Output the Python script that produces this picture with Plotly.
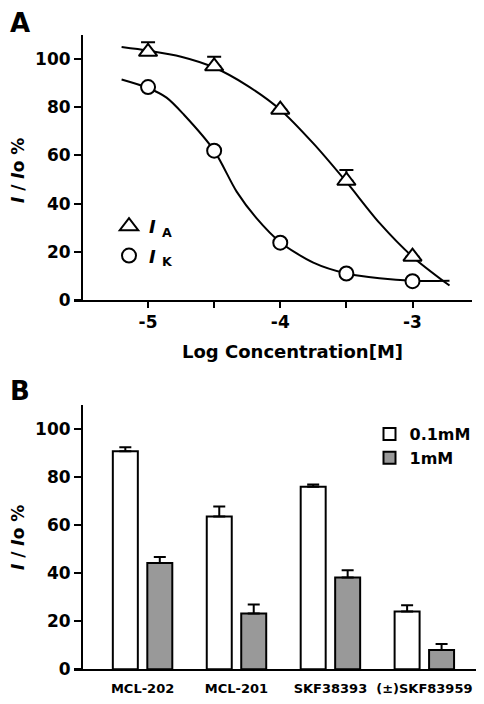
import plotly.graph_objects as go

W, H = 484, 704          # browser window (reference picture) size
OFF = 8                  # default body margin of the written page
FW, FH = W - 2 * OFF, H - 2 * OFF
FONT = "DejaVu Sans"

# ---------------- Panel A data ----------------
log_conc = [-5.0, -4.5, -4.0, -3.5, -3.0]
ia_values = [103.0, 97.0, 79.0, 49.5, 18.0]
ia_err = [4.0, 4.0, 0.0, 4.5, 0.0]
ik_values = [88.4, 62.0, 23.8, 11.0, 7.8]
ik_err = [0.0, 0.0, 0.0, 0.0, 0.0]

# fitted curves
ia_curve_x = [-5.2, -5.0, -4.75, -4.5, -4.25, -4.0, -3.75, -3.5, -3.25, -3.0, -2.72]
ia_curve_y = [105.0, 103.5, 101.0, 96.5, 89.0, 79.0, 65.0, 49.0, 32.0, 18.0, 6.0]
ik_curve_x = [-5.2, -5.0, -4.86, -4.73, -4.5, -4.33, -4.18, -4.0, -3.75, -3.5, -3.25, -3.0, -2.72]
ik_curve_y = [91.5, 88.0, 84.0, 77.0, 62.0, 45.0, 34.0, 24.0, 15.5, 11.0, 9.0, 8.0, 8.0]

a_xticks = [-5, -4, -3]
a_xticktext = ["-5", "-4", "-3"]
a_minor_ticks = [-4.5, -3.5]
y_ticks = [0, 20, 40, 60, 80, 100]

# ---------------- Panel B data ----------------
compounds = ["MCL-202", "MCL-201", "SKF38393", "(±)SKF83959"]
low_dose = [90.7, 63.6, 76.0, 24.1]
low_err = [1.7, 4.2, 0.9, 2.6]
high_dose = [44.2, 23.2, 38.2, 8.0]
high_err = [2.5, 3.8, 3.0, 2.5]


def px_x(p):
    return (p - OFF) / FW


def px_y(p):
    return (H - OFF - p) / FH


fig = go.Figure()

# curves
fig.add_trace(go.Scatter(x=ia_curve_x, y=ia_curve_y, mode="lines",
                         line=dict(color="black", width=2, shape="spline", smoothing=0.8),
                         showlegend=False, hoverinfo="skip", xaxis="x", yaxis="y"))
fig.add_trace(go.Scatter(x=ik_curve_x, y=ik_curve_y, mode="lines",
                         line=dict(color="black", width=2, shape="spline", smoothing=0.8),
                         showlegend=False, hoverinfo="skip", xaxis="x", yaxis="y"))
# points
fig.add_trace(go.Scatter(x=log_conc, y=ia_values, mode="markers",
                         name="<i>I</i>&nbsp;<sub>A</sub>",
                         marker=dict(symbol="triangle-up", size=16, color="white",
                                     line=dict(color="black", width=2)),
                         error_y=dict(type="data", array=ia_err, arrayminus=[0] * 5,
                                      symmetric=False, color="black", thickness=2, width=7),
                         legend="legend2", legendgroup="a", xaxis="x", yaxis="y"))
fig.add_trace(go.Scatter(x=log_conc, y=ik_values, mode="markers",
                         name="<i>I</i>&nbsp;<sub>K</sub>",
                         marker=dict(symbol="circle", size=14, color="white",
                                     line=dict(color="black", width=2)),
                         error_y=dict(type="data", array=ik_err, arrayminus=[0] * 5,
                                      symmetric=False, color="black", thickness=2, width=7),
                         legend="legend2", legendgroup="b", xaxis="x", yaxis="y"))

# bars
fig.add_trace(go.Bar(x=compounds, y=low_dose, name="0.1mM",
                     marker=dict(color="white", line=dict(color="black", width=2)),
                     error_y=dict(type="data", array=low_err, arrayminus=[0] * 4,
                                  symmetric=False, color="black", thickness=2, width=6),
                     xaxis="x2", yaxis="y2", legend="legend"))
fig.add_trace(go.Bar(x=compounds, y=high_dose, name="1mM",
                     marker=dict(color="#999999", line=dict(color="black", width=2)),
                     error_y=dict(type="data", array=high_err, arrayminus=[0] * 4,
                                  symmetric=False, color="black", thickness=2, width=6),
                     xaxis="x2", yaxis="y2", legend="legend"))

tickfont = dict(family=FONT, size=17, color="black", weight="bold")
axis_common = dict(showline=True, linecolor="black", linewidth=2, showgrid=False,
                   zeroline=False, ticks="outside", tickwidth=2, tickcolor="black")

fig.update_layout(
    width=FW, height=FH,
    margin=dict(l=0, r=0, t=0, b=0, autoexpand=False),
    paper_bgcolor="white", plot_bgcolor="white",
    barmode="group", bargap=0.266, bargroupgap=0.275,
    xaxis=dict(domain=[px_x(74), px_x(472)], anchor="y", range=[-5.56, -2.55],
               tickvals=a_xticks, ticktext=a_xticktext, ticklen=6,
               minor=dict(tickvals=a_minor_ticks, ticks="outside", ticklen=6,
                          tickwidth=2, tickcolor="black", showgrid=False),
               tickfont=tickfont, automargin=False, **axis_common),
    yaxis=dict(domain=[px_y(300), px_y(35)], anchor="free", position=px_x(82),
               range=[0, 110], tickvals=y_ticks, ticklen=7, tickfont=tickfont,
               automargin=False, **axis_common),
    xaxis2=dict(domain=[px_x(74), 1.0], anchor="y2", type="category",
                range=[-0.73, 3.55], showline=True, linecolor="black", linewidth=2,
                showgrid=False, zeroline=False, ticks="", ticklabelstandoff=6,
                automargin=False,
                tickfont=dict(family=FONT, size=13, color="black", weight="bold")),
    yaxis2=dict(domain=[px_y(669.3), px_y(405)], anchor="free", position=px_x(82),
                range=[0, 110], tickvals=y_ticks, ticklen=7, tickfont=tickfont,
                automargin=False, **axis_common),
    legend=dict(x=px_x(369.5), y=px_y(417), xanchor="left", yanchor="top",
                font=dict(family=FONT, size=16, color="black", weight="bold"),
                bgcolor="rgba(0,0,0,0)", tracegroupgap=0),
    legend2=dict(x=px_x(109), y=px_y(208), xanchor="left", yanchor="top",
                 font=dict(family=FONT, size=18, color="black", weight="bold"),
                 bgcolor="rgba(0,0,0,0)", tracegroupgap=3),
    showlegend=True,
)

ann_font = dict(family=FONT, color="black", weight="bold")
annotations = [
    dict(text="A", x=px_x(8), y=px_y(6), xanchor="left", yanchor="top",
         font=dict(size=26, **ann_font)),
    dict(text="B", x=px_x(8), y=px_y(374), xanchor="left", yanchor="top",
         font=dict(size=26, **ann_font)),
    dict(text="Log Concentration[M]", x=px_x(292), y=px_y(351),
         xanchor="center", yanchor="middle", font=dict(size=18, **ann_font)),
    dict(text="<i>I</i> / <i>I</i>o %", x=px_x(18), y=px_y(171), textangle=-90,
         xanchor="center", yanchor="middle", font=dict(size=17, **ann_font)),
    dict(text="<i>I</i> / <i>I</i>o %", x=px_x(18), y=px_y(538), textangle=-90,
         xanchor="center", yanchor="middle", font=dict(size=17, **ann_font)),
]
for a in annotations:
    a.update(xref="paper", yref="paper", showarrow=False)
fig.update_layout(annotations=annotations)

fig.write_html("out.html")
